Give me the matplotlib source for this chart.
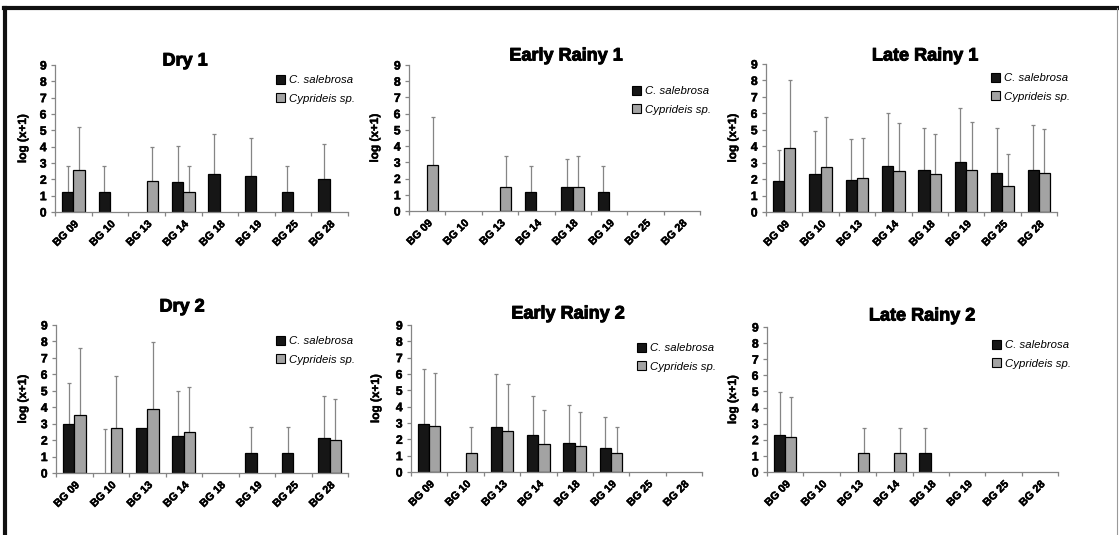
import numpy as np
import matplotlib
matplotlib.use("Agg")
import matplotlib.pyplot as plt
from matplotlib.lines import Line2D
from matplotlib.patches import Patch
import matplotlib.patheffects as pe

plt.rcParams['font.family'] = ['Liberation Sans', 'DejaVu Sans']

nan = np.nan
sites = ["BG 09", "BG 10", "BG 13", "BG 14", "BG 18", "BG 19", "BG 25", "BG 28"]
species = ["C. salebrosa", "Cyprideis sp."]
titles = ["Dry 1", "Early Rainy 1", "Late Rainy 1", "Dry 2", "Early Rainy 2", "Late Rainy 2"]

# means (log(x+1)); nan = no bar
dry1_cs = [1.2, 1.2, nan, 1.85, 2.3, 2.2, 1.2, 2.0]
dry1_cs_sd = [1.6, 1.6, nan, 2.2, 2.5, 2.3, 1.6, 2.15]
dry1_cy = [2.6, nan, 1.9, 1.2, nan, nan, nan, nan]
dry1_cy_sd = [2.6, nan, 2.05, 1.6, nan, nan, nan, nan]

er1_cs = [nan, nan, nan, 1.2, 1.5, 1.2, nan, nan]
er1_cs_sd = [nan, nan, nan, 1.6, 1.7, 1.6, nan, nan]
er1_cy = [2.85, nan, 1.5, nan, 1.5, nan, nan, nan]
er1_cy_sd = [2.95, nan, 1.9, nan, 1.9, nan, nan, nan]

lr1_cs = [1.9, 2.3, 1.95, 2.8, 2.55, 3.05, 2.4, 2.55]
lr1_cs_sd = [1.9, 2.65, 2.5, 3.2, 2.55, 3.3, 2.7, 2.75]
lr1_cy = [3.9, 2.75, 2.05, 2.5, 2.3, 2.55, 1.6, 2.35]
lr1_cy_sd = [4.1, 3.05, 2.45, 2.9, 2.45, 2.9, 1.95, 2.7]

dry2_cs = [2.95, 0.0, 2.75, 2.25, nan, 1.2, 1.2, 2.15]
dry2_cs_sd = [2.55, 2.65, nan, 2.75, nan, 1.6, 1.6, 2.55]
dry2_cy = [3.55, 2.75, 3.9, 2.5, nan, nan, nan, 2.0]
dry2_cy_sd = [4.05, 3.15, 4.05, 2.7, nan, nan, nan, 2.5]

er2_cs = [2.95, nan, 2.75, 2.25, 1.8, 1.45, nan, nan]
er2_cs_sd = [3.35, nan, 3.25, 2.4, 2.3, 1.9, nan, nan]
er2_cy = [2.8, 1.15, 2.5, 1.7, 1.6, 1.15, nan, nan]
er2_cy_sd = [3.25, 1.6, 2.9, 2.1, 2.1, 1.6, nan, nan]

lr2_cs = [2.3, nan, nan, nan, 1.15, nan, nan, nan]
lr2_cs_sd = [2.65, nan, nan, nan, 1.6, nan, nan, nan]
lr2_cy = [2.15, nan, 1.15, 1.15, nan, nan, nan, nan]
lr2_cy_sd = [2.5, nan, 1.6, 1.6, nan, nan, nan, nan]

panels = [
    (dry1_cs, dry1_cs_sd, dry1_cy, dry1_cy_sd),
    (er1_cs, er1_cs_sd, er1_cy, er1_cy_sd),
    (lr1_cs, lr1_cs_sd, lr1_cy, lr1_cy_sd),
    (dry2_cs, dry2_cs_sd, dry2_cy, dry2_cy_sd),
    (er2_cs, er2_cs_sd, er2_cy, er2_cy_sd),
    (lr2_cs, lr2_cs_sd, lr2_cy, lr2_cy_sd),
]

W, H = 1119, 535
fig = plt.figure(figsize=(W / 100, H / 100), dpi=100)

# axes boxes in pixels: x0, x1, ytop, ybottom
boxes = [(55, 348, 65, 212), (409, 700, 65, 211), (766, 1057, 64, 212),
         (56, 348, 325, 473), (411, 702, 325, 472), (767, 1058, 327, 472)]
title_pos = [(185, 61), (566, 56), (925, 56), (182, 307), (568, 314), (922, 316)]
legend_pos = [(276, 82), (632, 93), (991, 80), (276, 343), (637, 350), (992, 347)]
ylabel_x = [23, 375, 733, 23, 376, 733]

cs_col = '#161616'
cy_col = '#a3a3a3'
grey = '#858585'
bw = 0.31
heavy = [pe.withStroke(linewidth=0.7, foreground='black')]
semi = [pe.withStroke(linewidth=0.35, foreground='black')]

for i, (cs, cs_sd, cy, cy_sd) in enumerate(panels):
    x0, x1, yt, yb = boxes[i]
    ax = fig.add_axes([x0 / W, 1 - yb / H, (x1 - x0) / W, (yb - yt) / H])
    centers = np.arange(len(sites)) + 0.5
    cs = np.array(cs, float); cy = np.array(cy, float)
    cs_sd = np.array(cs_sd, float); cy_sd = np.array(cy_sd, float)
    xcs = centers - bw / 2
    xcy = centers + bw / 2
    m = ~np.isnan(cs) & (np.nan_to_num(cs) > 0)
    ax.bar(xcs[m], cs[m], width=bw, color=cs_col, edgecolor='#000000', linewidth=0.9, zorder=2)
    m = ~np.isnan(cy) & (np.nan_to_num(cy) > 0)
    ax.bar(xcy[m], cy[m], width=bw, color=cy_col, edgecolor='#000000', linewidth=0.9, zorder=2)
    for xx, mm, ss in ((xcs, cs, cs_sd), (xcy, cy, cy_sd)):
        k = ~np.isnan(ss)
        base = np.nan_to_num(mm)[k]
        ax.vlines(xx[k], base, base + ss[k], color=grey, linewidth=0.9, zorder=1)
        ax.plot(xx[k], base + ss[k], ls='none', marker='_', ms=3.5, mew=0.9, color=grey, zorder=1)

    ax.set_xlim(0, len(sites))
    ax.set_ylim(0, 9)
    ax.set_yticks(range(0, 10))
    ax.set_xticks(np.arange(len(sites) + 1))
    ax.set_xticklabels([])
    ax.set_xticks(centers, minor=True)
    ax.set_xticklabels(sites, minor=True, rotation=45, ha='right', rotation_mode='anchor',
                       fontsize=7.8, fontweight='bold')
    for lab in ax.get_xticklabels(minor=True):
        lab.set_path_effects(semi)
    ax.tick_params(axis='x', which='minor', length=0, pad=5)
    ax.tick_params(axis='x', which='major', length=3, color=grey, width=0.9, direction='out')
    ax.tick_params(axis='y', length=3, color=grey, width=0.9, direction='out', pad=3,
                   labelsize=8.8)
    for lab in ax.get_yticklabels():
        lab.set_fontweight('bold')
        lab.set_path_effects(semi)
    for s in ('top', 'right'):
        ax.spines[s].set_visible(False)
    for s in ('left', 'bottom'):
        ax.spines[s].set_color(grey)
        ax.spines[s].set_linewidth(0.9)
    ax.patch.set_alpha(0)

    tx, ty = title_pos[i]
    fig.text(tx / W, 1 - ty / H, titles[i], ha='center', va='center', fontsize=13,
             fontweight='bold', path_effects=heavy)
    fig.text(ylabel_x[i] / W, 1 - ((yt + yb) / 2) / H, "log (x+1)", rotation=90,
             ha='center', va='center', fontsize=8.5, fontweight='bold', path_effects=semi)

    handles = [Patch(facecolor=cs_col, edgecolor='#000000', linewidth=0.8),
               Patch(facecolor=cy_col, edgecolor='#000000', linewidth=0.8)]
    lx, ly = legend_pos[i]
    fig.legend(handles, species, loc='upper left', bbox_to_anchor=(lx / W, 1 - (ly - 7) / H),
               frameon=False, prop={'style': 'italic', 'size': 8.2},
               handlelength=0.8, handleheight=0.8, handletextpad=0.3,
               labelspacing=0.7, borderpad=0, borderaxespad=0)

# outer frame
fig.add_artist(Line2D([4 / W, 1], [1 - 8 / H, 1 - 8 / H], color='#111111', linewidth=3,
                      transform=fig.transFigure))
fig.add_artist(Line2D([5 / W, 5 / W], [0, 1 - 8 / H], color='#111111', linewidth=3,
                      transform=fig.transFigure))
fig.add_artist(Line2D([1117 / W, 1117 / W], [0, 1 - 8 / H], color='#999999', linewidth=0.8,
                      transform=fig.transFigure))

fig.savefig("out.png", dpi=100, facecolor='white')
